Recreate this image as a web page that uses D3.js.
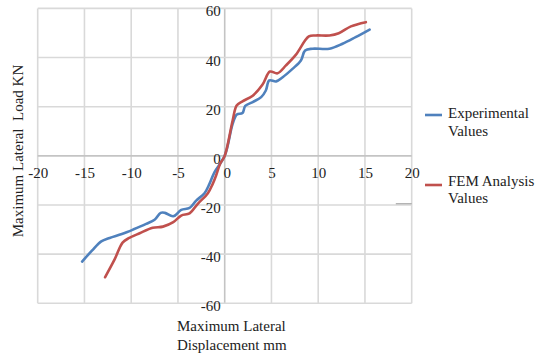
<!DOCTYPE html>
<html><head><meta charset="utf-8">
<script src="https://cdn.jsdelivr.net/npm/d3@7"></script>
<style>
body{margin:0;background:#fff;}
svg text{font-family:"Liberation Serif","Times New Roman",serif !important;fill:#222;}
</style></head>
<body><svg id="c" width="539" height="356"></svg>
<script>
const expX = [-15.25,-14.2,-13.2,-12.3,-11.0,-9.8,-8.4,-7.5,-6.85,-6.4,-5.5,-4.65,-3.76,-3.05,-2.16,-1.63,-1.1,0,0.85,1.3,1.9,2.2,3.0,3.9,4.4,4.77,5.5,6.2,7.25,8.15,8.6,9.4,11.2,12.6,14.0,15.5];
const expY = [-43,-38.6,-34.8,-33.4,-31.8,-30,-27.7,-26,-23.2,-23.2,-24.6,-22,-21.2,-18.2,-15.2,-11.4,-6.7,0,13,16.8,17.4,20.3,21.9,23.9,26.6,30.7,30.3,32,35.4,38.8,42.9,43.6,43.6,45.6,48.3,51.4];
const femX = [-12.8,-11.76,-10.9,-10.2,-9.1,-7.7,-6.6,-5.5,-4.65,-3.76,-2.9,-1.8,-1.28,-0.92,-0.5,0,0.85,1.28,1.9,3.0,4.05,4.84,5.65,6.55,7.6,9.0,9.75,11.2,12.2,13.5,15.1];
const femY = [-49.4,-42,-35.2,-33.4,-31.5,-29.3,-28.8,-27,-24.3,-23.4,-19.6,-15.2,-11.4,-8,-3.3,0,14.4,20.5,22.2,24.5,29,34.3,33.6,36.8,41.1,48.6,49,49,49.9,52.7,54.4];
const xTicks = [-20,-15,-10,-5,0,5,10,15,20];
const yTicks = [-60,-40,-20,0,20,40,60];
const seriesNames = ["Experimental Values","FEM Analysis Values"];
const colors = ["#4f81bd","#c0504d"];

const svg = d3.select("#c");
const x = d3.scaleLinear().domain([-20,20]).range([37.7,411.7]);
const y = d3.scaleLinear().domain([-60,60]).range([303.3,8.4]);

const g = svg.append("g");
g.selectAll(".vg").data(xTicks).enter().append("line")
  .attr("x1",d=>x(d)).attr("x2",d=>x(d)).attr("y1",y(60)).attr("y2",y(-60))
  .attr("stroke",d=>d===0?"#c4c4c4":"#d9d9d9").attr("stroke-width",1.6);
g.selectAll(".hg").data(yTicks).enter().append("line")
  .attr("y1",d=>y(d)).attr("y2",d=>y(d)).attr("x1",x(-20)).attr("x2",x(20))
  .attr("stroke",d=>d===0?"#c4c4c4":"#d9d9d9").attr("stroke-width",1.6);
g.append("line").attr("x1",x(18.3)).attr("x2",x(20)).attr("y1",y(-19.5)).attr("y2",y(-19.5))
  .attr("stroke","#999").attr("stroke-width",1);

const fmt = d => String(d);
const xa = d3.axisBottom(x).tickValues(xTicks).tickSize(0).tickPadding(12).tickFormat(fmt);
const xg = svg.append("g").attr("transform",`translate(0,${y(0)})`).call(xa);
xg.select(".domain").remove();
xg.selectAll("text").attr("font-size",15).attr("dx",d=>d===0?2:0);
const ya = d3.axisLeft(y).tickValues(yTicks).tickSize(0).tickPadding(4).tickFormat(fmt);
const yg = svg.append("g").attr("transform",`translate(${x(0)},0)`).call(ya);
yg.select(".domain").remove();
yg.selectAll("text").attr("font-size",15).attr("dy","0.5em");

const line = d3.line().x(d=>x(d[0])).y(d=>y(d[1])).curve(d3.curveCatmullRom.alpha(0.5));
const series = [d3.zip(expX,expY), d3.zip(femX,femY)];
svg.selectAll(".s").data(series).enter().append("path")
  .attr("d",line).attr("fill","none").attr("stroke",(d,i)=>colors[i]).attr("stroke-width",2.6)
  .attr("stroke-linejoin","round").attr("stroke-linecap","round");

svg.append("text").attr("transform","translate(23,151) rotate(-90)").attr("text-anchor","middle")
  .attr("font-size",15).style("white-space","pre").text("Maximum Lateral  Load KN");
const xt = svg.append("text").attr("x",177).attr("y",331).attr("font-size",15);
xt.append("tspan").attr("x",177).text("Maximum Lateral");
xt.append("tspan").attr("x",177).attr("dy",18.5).text("Displacement mm");

const leg = [{y:115,ty:[118,136]},{y:185,ty:[186,203]}];
leg.forEach((l,i)=>{
  svg.append("line").attr("x1",425).attr("x2",442).attr("y1",l.y).attr("y2",l.y)
    .attr("stroke",colors[i]).attr("stroke-width",2.6);
  const parts = i===0?["Experimental","Values"]:["FEM Analysis","Values"];
  parts.forEach((p,j)=>svg.append("text").attr("x",448).attr("y",l.ty[j]).attr("font-size",15).text(p));
});
</script></body></html>
